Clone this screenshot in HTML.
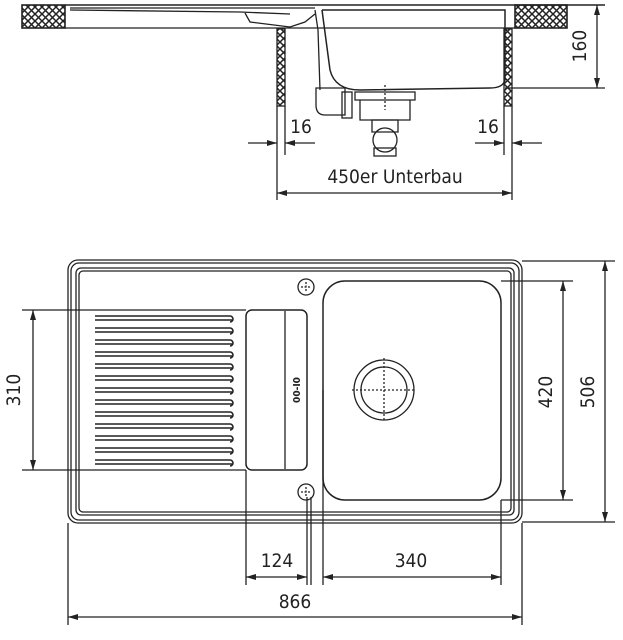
<!DOCTYPE html>
<html><head><meta charset="utf-8"><style>
html,body{margin:0;padding:0;background:#fff;width:623px;height:640px;overflow:hidden}
text{font-family:"DejaVu Sans Condensed","Liberation Sans",sans-serif;fill:#222}
</style></head><body>
<svg width="623" height="640" viewBox="0 0 623 640" xmlns="http://www.w3.org/2000/svg">
<defs>
<pattern id="h" width="7" height="7" patternUnits="userSpaceOnUse">
<path d="M0 0L7 7M7 0L0 7" stroke="#222" stroke-width="1.5"/></pattern>
<marker id="a" viewBox="0 0 10 6" refX="10" refY="3" markerWidth="10" markerHeight="6" orient="auto-start-reverse" markerUnits="userSpaceOnUse"><path d="M0 0L10 3L0 6z" fill="#222"/></marker>
</defs>
<g fill="none" stroke="#222" stroke-width="1.3">
<rect x="22" y="5" width="43" height="23" fill="url(#h)" stroke-width="1.6"/>
<rect x="515" y="5" width="52" height="23" fill="url(#h)" stroke-width="1.6"/>
<line x1="65" y1="5" x2="605" y2="5" stroke-width="1.6"/>
<line x1="65" y1="28" x2="515" y2="28"/>
<path d="M70 8 L315 8 M70 10 L240 12 L290 14"/>
<path d="M245 13 L250 22 L290 27 L305 22 L315 14"/>
<rect x="277" y="29" width="8" height="77" fill="url(#h)"/>
<rect x="504" y="29" width="8" height="77" fill="url(#h)"/>
<path d="M322 10 L505 10 L505 80 Q503 88 490 88 L360 90 Q335 90 330 70 L322 10" stroke-width="1.5"/>
<path d="M315 10 L318 30 L320 90"/>
<path d="M316 88 L345 88 L345 115 L325 115 Q316 115 316 105 Z"/>
<rect x="342" y="92" width="10" height="26"/>
<path d="M355 92 L415 92 L415 100 L355 100 Z M360 100 L360 120 L410 120 L410 100"/>
<path d="M372 120 L398 120 L398 132 L372 132 Z"/>
<circle cx="385" cy="140" r="12"/>
<rect x="374" y="148" width="22" height="8"/>
<line x1="385" y1="85" x2="385" y2="110" stroke-dasharray="2 2"/>
<line x1="505" y1="88" x2="605" y2="88"/>
<line x1="597" y1="5" x2="597" y2="88" marker-start="url(#a)" marker-end="url(#a)"/>
<line x1="277" y1="106" x2="277" y2="200"/>
<line x1="285" y1="106" x2="285" y2="155"/>
<line x1="504" y1="106" x2="504" y2="155"/>
<line x1="512" y1="106" x2="512" y2="200"/>
<line x1="248" y1="143" x2="277" y2="143" marker-end="url(#a)"/>
<line x1="315" y1="143" x2="285" y2="143" marker-end="url(#a)"/>
<line x1="475" y1="143" x2="504" y2="143" marker-end="url(#a)"/>
<line x1="542" y1="143" x2="512" y2="143" marker-end="url(#a)"/>
<line x1="277" y1="193" x2="512" y2="193" marker-start="url(#a)" marker-end="url(#a)"/>
<rect x="68" y="260" width="454" height="263" rx="10"/>
<rect x="71" y="263" width="448" height="257" rx="8"/>
<rect x="76" y="268" width="438" height="247" rx="5"/>
<rect x="79" y="271" width="432" height="241" rx="4"/>
<rect x="323" y="281" width="178" height="219" rx="22" stroke-width="1.5"/>
<circle cx="384" cy="390" r="30"/>
<circle cx="384" cy="390" r="23"/>
<path d="M352 390H416M384 358V422" stroke-dasharray="2 2"/>
<circle cx="306" cy="287" r="8"/><path d="M301 287h10M306 282v10" stroke-dasharray="2 1.5"/>
<circle cx="306" cy="492" r="8"/><path d="M301 492h10M306 487v10" stroke-dasharray="2 1.5"/>
<g stroke-width="1.6">
<path d="M95 320H232M95 332H232M95 344H232M95 356H232M95 368H232M95 380H232M95 392H232M95 404H232M95 416H232M95 428H232M95 440H232M95 452H232M95 464H232"/>
<path d="M95 316H230a3 3 0 0 1 0 6M95 328H230a3 3 0 0 1 0 6M95 340H230a3 3 0 0 1 0 6M95 352H230a3 3 0 0 1 0 6M95 364H230a3 3 0 0 1 0 6M95 376H230a3 3 0 0 1 0 6M95 388H230a3 3 0 0 1 0 6M95 400H230a3 3 0 0 1 0 6M95 412H230a3 3 0 0 1 0 6M95 424H230a3 3 0 0 1 0 6M95 436H230a3 3 0 0 1 0 6M95 448H230a3 3 0 0 1 0 6M95 460H230a3 3 0 0 1 0 6"/>
</g>
<rect x="246" y="310" width="61" height="160" rx="6" stroke-width="1.5"/>
<line x1="285" y1="311" x2="285" y2="469"/>
<line x1="22" y1="310" x2="246" y2="310"/>
<line x1="22" y1="470" x2="246" y2="470"/>
<line x1="33" y1="310" x2="33" y2="470" marker-start="url(#a)" marker-end="url(#a)"/>
<line x1="501" y1="281" x2="573" y2="281"/>
<line x1="501" y1="500" x2="573" y2="500"/>
<line x1="563" y1="281" x2="563" y2="500" marker-start="url(#a)" marker-end="url(#a)"/>
<line x1="522" y1="261" x2="615" y2="261"/>
<line x1="522" y1="522" x2="615" y2="522"/>
<line x1="605" y1="261" x2="605" y2="522" marker-start="url(#a)" marker-end="url(#a)"/>
<line x1="246" y1="470" x2="246" y2="585"/>
<line x1="307" y1="497" x2="307" y2="585"/>
<line x1="311" y1="497" x2="311" y2="585"/>
<line x1="323" y1="390" x2="323" y2="585"/>
<line x1="501" y1="500" x2="501" y2="585"/>
<line x1="68" y1="523" x2="68" y2="625"/>
<line x1="522" y1="523" x2="522" y2="625"/>
<line x1="246" y1="577" x2="307" y2="577" marker-start="url(#a)" marker-end="url(#a)"/>
<line x1="323" y1="577" x2="501" y2="577" marker-start="url(#a)" marker-end="url(#a)"/>
<line x1="68" y1="617" x2="522" y2="617" marker-start="url(#a)" marker-end="url(#a)"/>
</g>
<g font-size="19">
<text x="586" y="46" transform="rotate(-90 586 46)" text-anchor="middle">160</text>
<text x="301" y="133" text-anchor="middle">16</text>
<text x="488" y="133" text-anchor="middle">16</text>
<text x="395" y="183" text-anchor="middle">450er Unterbau</text>
<text x="20" y="390" transform="rotate(-90 20 390)" text-anchor="middle">310</text>
<text x="552" y="392" transform="rotate(-90 552 392)" text-anchor="middle">420</text>
<text x="594" y="392" transform="rotate(-90 594 392)" text-anchor="middle">506</text>
<text x="277" y="567" text-anchor="middle">124</text>
<text x="411" y="567" text-anchor="middle">340</text>
<text x="295" y="608" text-anchor="middle">866</text>
</g>
<text x="300" y="390" font-size="10" font-weight="bold" transform="rotate(-90 300 390)" text-anchor="middle">00-I0</text>
</svg>
</body></html>
